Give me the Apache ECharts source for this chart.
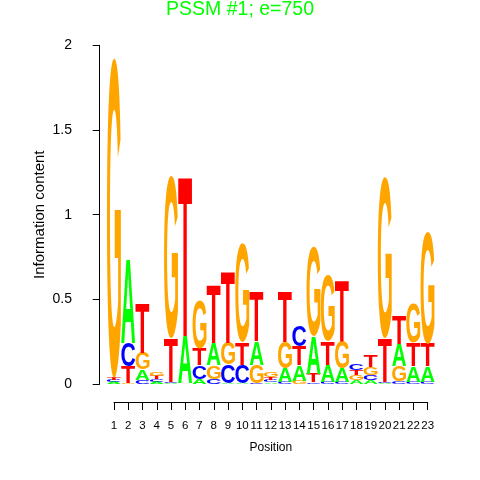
<!DOCTYPE html>
<html>
<head>
<meta charset="utf-8">
<script src="https://cdn.jsdelivr.net/npm/echarts@6.0.0/dist/echarts.min.js"></script>
<style>
html, body { margin: 0; padding: 0; background: #fff; }
#chart { width: 480px; height: 480px; }
</style>
</head>
<body>
<div id="chart"></div>
<script>
// information content (bits) of each base at each position
const positions = [1, 2, 3, 4, 5, 6, 7, 8, 9, 10, 11, 12, 13, 14, 15, 16, 17, 18, 19, 20, 21, 22, 23];
const bitsA = [0.012, 0.50, 0.06, 0.014, 0.005, 0.28, 0.03, 0.13, 0.005, 0.005, 0.14, 0.01, 0.08, 0.09, 0.22, 0.10, 0.08, 0.025, 0.025, 0.005, 0.13, 0.09, 0.09];
const bitsC = [0.012, 0.14, 0.025, 0.016, 0.005, 0.003, 0.08, 0.03, 0.11, 0.11, 0.005, 0.014, 0.015, 0.125, 0.01, 0.015, 0.015, 0.04, 0.03, 0.008, 0.015, 0.015, 0.015];
const bitsG = [1.89, 0.005, 0.10, 0.025, 0.954, 0.003, 0.286, 0.08, 0.13, 0.585, 0.11, 0.03, 0.155, 0.02, 0.53, 0.385, 0.16, 0.028, 0.045, 0.95, 0.09, 0.23, 0.66];
const bitsT = [0.012, 0.10, 0.29, 0.02, 0.26, 0.94, 0.10, 0.345, 0.425, 0.13, 0.29, 0.016, 0.30, 0.115, 0.05, 0.14, 0.36, 0.032, 0.07, 0.26, 0.165, 0.14, 0.135];
const yTicks = [0, 0.5, 1, 1.5, 2];

const letters = ['A', 'C', 'G', 'T'];
const letterColors = { A: '#00ff00', C: '#0000ff', G: '#ffa500', T: '#ff0000' };
const LETTER_FONT = 'bold 100px "Liberation Sans"';

// ink box of each letter, so it can be stretched to fill its cell
const glyph = {};
(function () {
    const ctx = document.createElement('canvas').getContext('2d');
    ctx.font = LETTER_FONT;
    ctx.textAlign = 'center';
    ctx.textBaseline = 'middle';
    letters.forEach(ch => {
        const m = ctx.measureText(ch);
        glyph[ch] = {
            l: m.actualBoundingBoxLeft,
            r: m.actualBoundingBoxRight,
            a: m.actualBoundingBoxAscent,
            d: m.actualBoundingBoxDescent
        };
    });
})();

const logoData = positions.map((p, i) => [p, bitsA[i], bitsC[i], bitsG[i], bitsT[i]]);

function renderLogo(params, api) {
    const pos = api.value(0);
    const stack = letters
        .map((ch, k) => ({ ch: ch, h: api.value(k + 1) }))
        .sort((p, q) => p.h - q.h);
    const x0 = api.coord([pos - 0.49, 0])[0];
    const x1 = api.coord([pos + 0.49, 0])[0];
    let base = 0;
    const children = [];
    stack.forEach(s => {
        const yb = api.coord([pos, base])[1];
        const yt = api.coord([pos, base + s.h])[1];
        base += s.h;
        if (yb - yt < 0.05) return;
        const g = glyph[s.ch];
        const sx = (x1 - x0) / (g.l + g.r);
        const sy = (yb - yt) / (g.a + g.d);
        children.push({
            type: 'text',
            x: x0 + g.l * sx,
            y: yt + g.a * sy,
            scaleX: sx,
            scaleY: sy,
            style: {
                text: s.ch,
                x: 0,
                y: 0,
                font: LETTER_FONT,
                fill: letterColors[s.ch],
                align: 'center',
                verticalAlign: 'middle'
            }
        });
    });
    return { type: 'group', children: children };
}

const chart = echarts.init(document.getElementById('chart'), null, { renderer: 'canvas' });
const option = {
    animation: false,
    backgroundColor: '#fff',
    title: {
        text: 'PSSM #1; e=750',
        left: 'center',
        top: 0,
        padding: 0,
        textStyle: { color: '#00ff00', fontSize: 19.5, fontWeight: 'normal', fontFamily: 'Liberation Sans' }
    },
    grid: [
        { left: 90, top: 45.3, width: 351.9, height: 338.8 },
        { left: 114, width: 313.7, top: 380, height: 22.5 }
    ],
    xAxis: [
        { gridIndex: 0, type: 'value', min: -0.68, max: 24, show: false },
        {
            gridIndex: 1,
            type: 'value',
            min: 1,
            max: 23,
            interval: 1,
            position: 'bottom',
            name: 'Position',
            nameLocation: 'middle',
            nameGap: 39,
            nameMoveOverlap: false,
            nameTextStyle: { color: '#000', fontSize: 12, fontFamily: 'Liberation Sans' },
            axisLine: { show: true, lineStyle: { color: '#000', width: 1 } },
            axisTick: { show: true, length: 7.5, lineStyle: { color: '#000' } },
            axisLabel: { interval: 0, hideOverlap: false, margin: 17, color: '#000', fontSize: 11.5, fontFamily: 'Liberation Sans' },
            splitLine: { show: false }
        }
    ],
    yAxis: [
        {
            gridIndex: 0,
            type: 'value',
            min: 0,
            max: 2,
            interval: 0.5,
            name: 'Information content',
            nameLocation: 'middle',
            nameGap: 43,
            nameMoveOverlap: false,
            nameTextStyle: { color: '#000', fontSize: 15, fontFamily: 'Liberation Sans' },
            axisLine: { show: true, lineStyle: { color: '#000', width: 1 } },
            axisTick: { show: true, length: 7, lineStyle: { color: '#000' } },
            axisLabel: {
                margin: 18,
                color: '#000',
                fontSize: 14,
                fontFamily: 'Liberation Sans',
                formatter: v => (yTicks.indexOf(v) >= 0 ? String(v) : '')
            },
            splitLine: { show: false }
        },
        { gridIndex: 1, type: 'value', show: false }
    ],
    series: [
        {
            type: 'custom',
            xAxisIndex: 0,
            yAxisIndex: 0,
            silent: true,
            clip: false,
            encode: { x: 0, y: 1 },
            renderItem: renderLogo,
            data: logoData
        }
    ]
};
chart.setOption(option);
</script>
</body>
</html>
